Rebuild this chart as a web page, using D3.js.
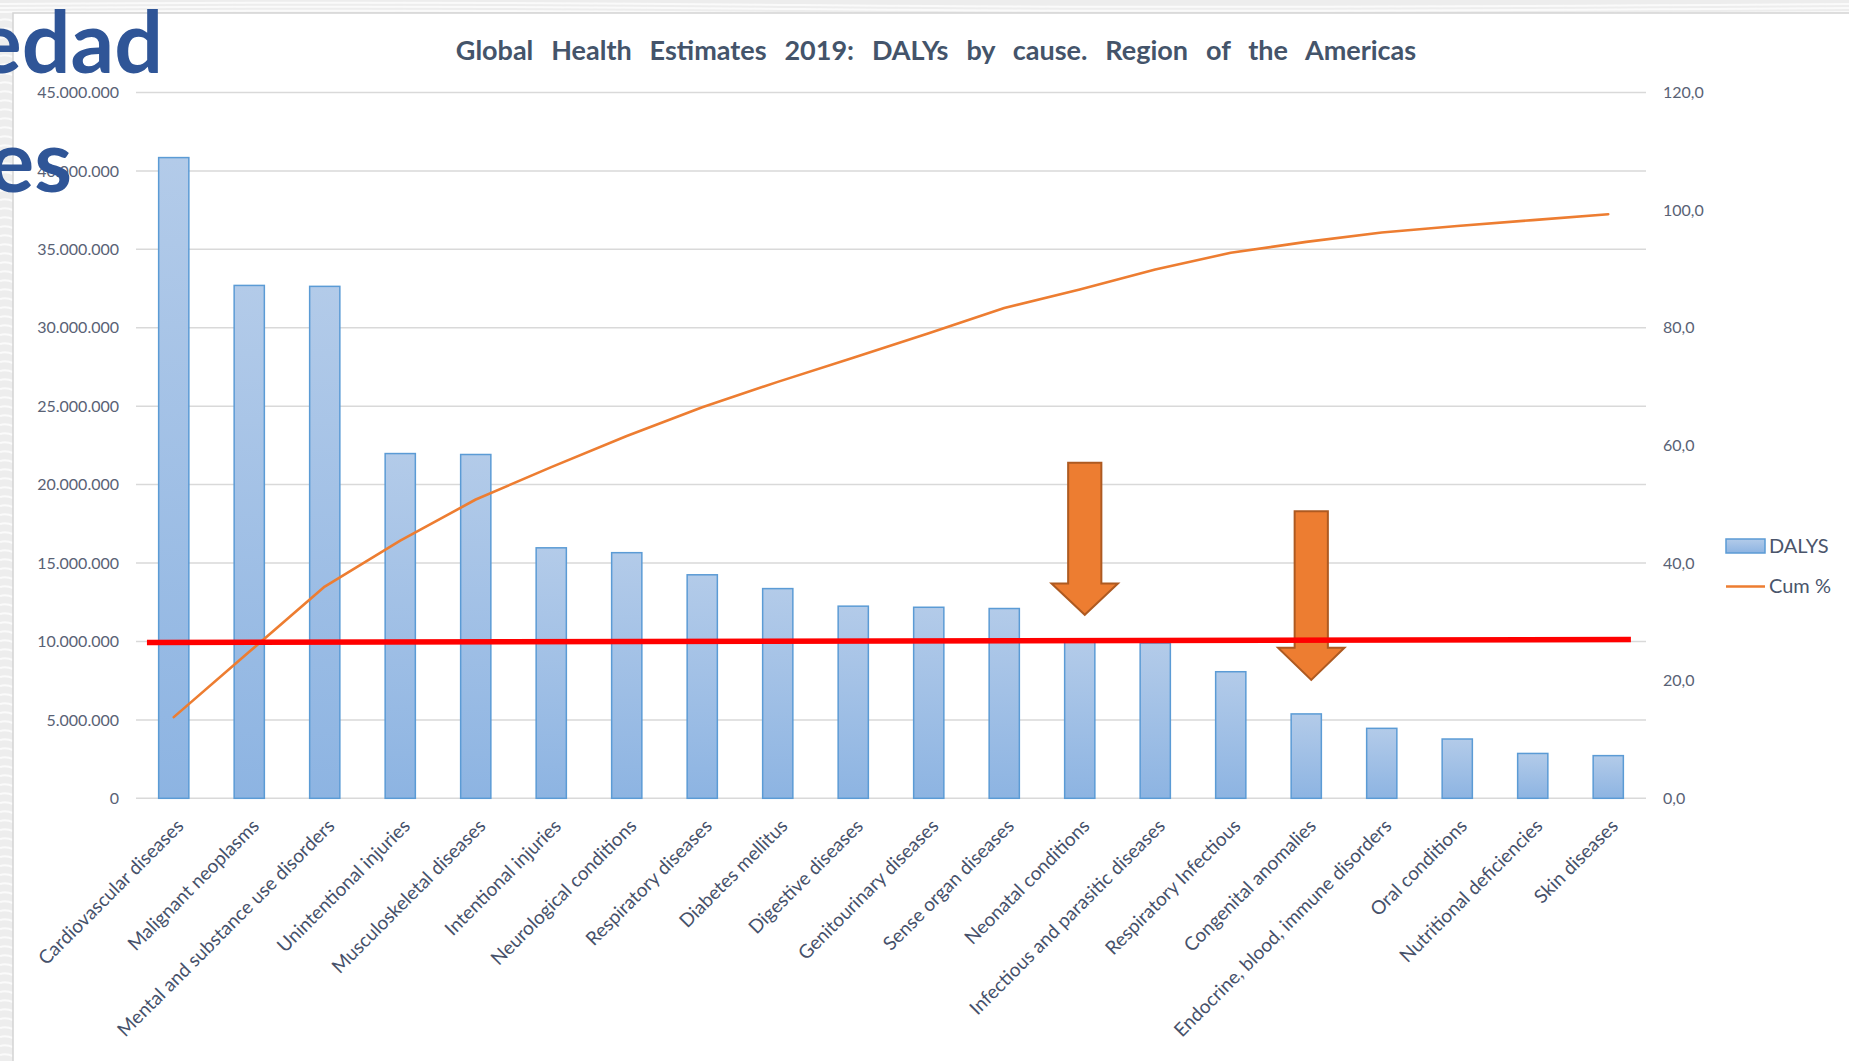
<!DOCTYPE html>
<html>
<head>
<meta charset="utf-8">
<script src="https://d3js.org/d3.v7.min.js"></script>
<style>
  body { margin: 0; background: #fff; }
  svg { display: block; }
</style>
</head>
<body>
<script>
// causes in pareto order, DALYs and cumulative %
const causes = ["Cardiovascular diseases", "Malignant neoplasms", "Mental and substance use disorders",
  "Unintentional injuries", "Musculoskeletal diseases", "Intentional injuries", "Neurological conditions",
  "Respiratory diseases", "Diabetes mellitus", "Digestive diseases", "Genitourinary diseases",
  "Sense organ diseases", "Neonatal conditions", "Infectious and parasitic diseases", "Respiratory Infectious",
  "Congenital anomalies", "Endocrine, blood, immune disorders", "Oral conditions", "Nutritional deficiencies",
  "Skin diseases"];
const dalys = [40850000, 32700000, 32640000, 21980000, 21920000, 15970000, 15660000, 14250000, 13370000,
  12250000, 12180000, 12100000, 9950000, 9900000, 8070000, 5380000, 4460000, 3780000, 2860000, 2720000];
const cumPct = [13.8, 24.9, 36.0, 43.8, 50.8, 56.3, 61.6, 66.5, 70.8, 74.9, 79.05, 83.35, 86.5, 89.9,
  92.75, 94.6, 96.2, 97.3, 98.3, 99.3];
const leftTicks = [0, 5000000, 10000000, 15000000, 20000000, 25000000, 30000000, 35000000, 40000000, 45000000];
const rightTicks = [0, 20, 40, 60, 80, 100, 120];
const seriesNames = ["DALYS", "Cum %"];

// hand drawn red cut-off line, DALYs at its left and right end
const cutoff = [9930000, 10120000];
// the two block arrows (in DALYs): top of shaft, start of head, tip
const arrowCats = ["Neonatal conditions", "Congenital anomalies"];
const arrowTop = [21400000, 18300000];
const arrowNeck = [13700000, 9600000];
const arrowTip = [11700000, 7550000];

const W = 1849, H = 1061;
const plot = { left: 136, right: 1646, top: 92.5, bottom: 798.3 };

const svg = d3.select("body").append("svg")
  .attr("width", W).attr("height", H)
  .style("font-family", "Lato, 'Open Sans', sans-serif");

// slide background + chart area
svg.append("rect").attr("width", W).attr("height", H).attr("fill", "#ededed");
const wave = svg.append("g").attr("stroke", "#fafafa").attr("stroke-width", 2).attr("fill", "none");
d3.range(4, 13, 4).forEach(y => wave.append("path").attr("d", `M0,${y} Q400,${y - 3} 800,${y + 1} T1849,${y}`));
d3.range(20, H, 9).forEach(y => wave.append("path").attr("d", `M0,${y} q6,-2 13,1`));
svg.append("rect").attr("x", 13).attr("y", 13).attr("width", W).attr("height", H)
  .attr("fill", "#fff").attr("stroke", "#d4d4d4").attr("stroke-width", 1.5);

const defs = svg.append("defs");
const grad = defs.append("linearGradient").attr("id", "barGrad")
  .attr("x1", 0).attr("y1", 0).attr("x2", 0).attr("y2", 1);
grad.append("stop").attr("offset", "0%").attr("stop-color", "#b3cbe9");
grad.append("stop").attr("offset", "100%").attr("stop-color", "#8db4e2");

const x = d3.scaleBand().domain(causes).range([plot.left, plot.right])
  .paddingInner(0.6).paddingOuter(0.3);
const yL = d3.scaleLinear().domain([0, 45000000]).range([plot.bottom, plot.top]);
const yR = d3.scaleLinear().domain([0, 120]).range([plot.bottom, plot.top]);
const step = x.step();
const cx = c => x(c) + x.bandwidth() / 2;

const loc = d3.formatLocale({ decimal: ",", thousands: ".", grouping: [3], currency: ["", ""] });
const fmtL = loc.format(",.0f");
const fmtR = loc.format(".1f");

// gridlines
svg.append("g").selectAll("line").data(leftTicks).join("line")
  .attr("x1", plot.left).attr("x2", plot.right)
  .attr("y1", d => yL(d)).attr("y2", d => yL(d))
  .attr("stroke", "#d9d9d9").attr("stroke-width", 1.5);

// axes
const axL = svg.append("g").attr("transform", `translate(${plot.left},0)`)
  .call(d3.axisLeft(yL).tickValues(leftTicks).tickFormat(fmtL).tickSize(0).tickPadding(17));
const axR = svg.append("g").attr("transform", `translate(${plot.right},0)`)
  .call(d3.axisRight(yR).tickValues(rightTicks).tickFormat(fmtR).tickSize(0).tickPadding(17));
[axL, axR].forEach(a => {
  a.select(".domain").remove();
  a.selectAll("text").attr("fill", "#596275").style("font-size", "16px").style("font-family", "Lato, sans-serif");
});

// bars
svg.append("g").selectAll("rect").data(causes).join("rect")
  .attr("x", d => x(d)).attr("width", x.bandwidth())
  .attr("y", (d, i) => yL(dalys[i])).attr("height", (d, i) => yL(0) - yL(dalys[i]))
  .attr("fill", "url(#barGrad)").attr("stroke", "#5b9bd5").attr("stroke-width", 1.5);

// category labels
svg.append("g").selectAll("text").data(causes).join("text")
  .attr("transform", d => `translate(${cx(d) + 11},${plot.bottom + 29}) rotate(-45)`)
  .attr("text-anchor", "end")
  .attr("fill", "#46516a").style("font-size", "19px")
  .text(d => d);

// cumulative line
const line = d3.line().x((d, i) => cx(causes[i])).y(d => yR(d));
svg.append("path").datum(cumPct).attr("d", line)
  .attr("fill", "none").attr("stroke", "#ed7d31").attr("stroke-width", 2.6)
  .attr("stroke-linejoin", "round").attr("stroke-linecap", "round");

// block arrows
arrowCats.forEach((c, i) => {
  const m = cx(c) + 5, hw = step * 0.22, hh = step * 0.44;
  const t = yL(arrowTop[i]), n = yL(arrowNeck[i]), p = yL(arrowTip[i]);
  svg.append("path")
    .attr("d", `M${m - hw},${t}H${m + hw}V${n}H${m + hh}L${m},${p}L${m - hh},${n}H${m - hw}Z`)
    .attr("fill", "#ed7d31").attr("stroke", "#ae5a21").attr("stroke-width", 2);
});

// red cut-off line
svg.append("line")
  .attr("x1", x(causes[0]) - step * 0.155).attr("y1", yL(cutoff[0]))
  .attr("x2", x(causes[causes.length - 1]) + x.bandwidth() + step * 0.1).attr("y2", yL(cutoff[1]))
  .attr("stroke", "#ff0000").attr("stroke-width", 5.5);

// legend
const lg = svg.append("g").attr("transform", "translate(1726,0)");
lg.append("rect").attr("x", 0).attr("y", 539).attr("width", 39).attr("height", 14)
  .attr("fill", "url(#barGrad)").attr("stroke", "#5b9bd5").attr("stroke-width", 1.5);
lg.append("line").attr("x1", 0).attr("x2", 39).attr("y1", 586.5).attr("y2", 586.5)
  .attr("stroke", "#ed7d31").attr("stroke-width", 2.6);
lg.selectAll("text").data(seriesNames).join("text")
  .attr("x", 43).attr("y", (d, i) => 546 + i * 40).attr("dy", "0.36em")
  .attr("fill", "#4a556b").style("font-size", "20px").text(d => d);

// title, spread to the width of the original
const title = svg.append("text").attr("x", 936).attr("y", 60).attr("text-anchor", "middle")
  .attr("fill", "#44546a").style("font-size", "27px").style("font-weight", "bold")
  .text("Global Health Estimates 2019: DALYs by cause. Region of the Americas");
const tw = title.node().getComputedTextLength();
title.style("word-spacing", `${Math.max(0, (949 - tw) / 9)}px`);

// slide heading peeking out behind the chart
const slide = svg.append("g").attr("fill", "#2f5597").attr("text-anchor", "end")
  .style("font-size", "86px").style("font-weight", "bold");
slide.append("text").attr("x", 163).attr("y", 73).text("edad");
slide.append("text").attr("x", 72).attr("y", 192).text("nes");
</script>
</body>
</html>
